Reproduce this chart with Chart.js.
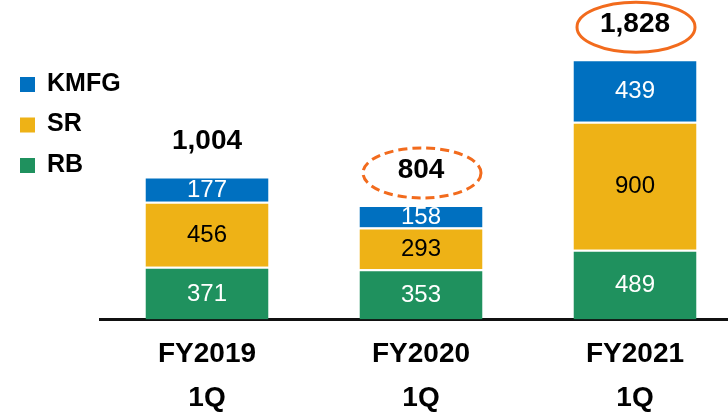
<!DOCTYPE html>
<html>
<head>
<meta charset="utf-8">
<script src="https://cdn.jsdelivr.net/npm/chart.js@4.4.1/dist/chart.umd.min.js"></script>
<style>
  html, body { margin: 0; padding: 0; background: #fff; overflow: hidden; }
</style>
</head>
<body>
<canvas id="chart" width="742" height="418"></canvas>
<script>
const categories = [['FY2019', '1Q'], ['FY2020', '1Q'], ['FY2021', '1Q']];
const rbValues = [371, 353, 489];
const srValues = [456, 293, 900];
const kmfgValues = [177, 158, 439];
// highlight ring drawn round the total: none, dashed, solid
const ringStyles = [null, 'dashed', 'solid'];

const FONT = "'Liberation Sans', Arial, sans-serif";
const ORANGE = '#F26B1D';

// segment values inside the bars, totals (and rings) above them
const valueLabels = {
    id: 'valueLabels',
    afterDatasetsDraw(chart) {
        const ctx = chart.ctx;
        const datasets = chart.data.datasets;
        ctx.save();
        ctx.textAlign = 'center';
        ctx.textBaseline = 'middle';

        ctx.font = '24px ' + FONT;
        datasets.forEach((ds, i) => {
            chart.getDatasetMeta(i).data.forEach((bar, j) => {
                ctx.fillStyle = ds.labelColor;
                ctx.fillText(ds.data[j], bar.x, (bar.y + bar.base) / 2 + 1);
            });
        });

        const top = chart.getDatasetMeta(datasets.length - 1);
        top.data.forEach((bar, j) => {
            const total = datasets.reduce((sum, ds) => sum + ds.data[j], 0);
            const y = bar.y - 35;
            ctx.font = 'bold 28px ' + FONT;
            ctx.fillStyle = '#000';
            ctx.fillText(total.toLocaleString('en-US'), bar.x, y);

            if (ringStyles[j]) {
                ctx.beginPath();
                ctx.lineWidth = 3;
                ctx.strokeStyle = ORANGE;
                ctx.setLineDash(ringStyles[j] === 'dashed' ? [9, 5] : []);
                ctx.ellipse(bar.x + 1, y + 3, 59, 25, 0, 0, Math.PI * 2);
                ctx.stroke();
            }
        });
        ctx.restore();
    }
};

// legend in the top-left corner, last series first
const cornerLegend = {
    id: 'cornerLegend',
    afterDraw(chart) {
        const ctx = chart.ctx;
        const items = chart.data.datasets.slice().reverse();
        ctx.save();
        ctx.font = 'bold 25px ' + FONT;
        ctx.textAlign = 'left';
        ctx.textBaseline = 'middle';
        items.forEach((ds, i) => {
            const y = 84 + i * 40.5;
            ctx.fillStyle = ds.backgroundColor;
            ctx.fillRect(20, y - 7, 15, 15);
            ctx.fillStyle = '#000';
            ctx.fillText(ds.label, 47, y);
        });
        ctx.restore();
    }
};

new Chart(document.getElementById('chart'), {
    type: 'bar',
    data: {
        labels: categories,
        datasets: [
            { label: 'RB', data: rbValues, backgroundColor: '#1F915E', labelColor: '#fff' },
            { label: 'SR', data: srValues, backgroundColor: '#EEB216', labelColor: '#000' },
            { label: 'KMFG', data: kmfgValues, backgroundColor: '#0070C0', labelColor: '#fff' }
        ]
    },
    options: {
        responsive: false,
        animation: false,
        layout: { padding: { left: 100, top: 56 } },
        datasets: {
            bar: {
                borderColor: '#fff',
                borderWidth: { top: 2 },
                categoryPercentage: 1,
                barPercentage: 0.575
            }
        },
        scales: {
            x: {
                stacked: true,
                grid: { display: false },
                border: { display: true, color: '#111', width: 3 },
                ticks: {
                    color: '#000',
                    padding: 5,
                    font: { family: FONT, size: 28, weight: 'bold', lineHeight: '44px' }
                },
                afterFit(scale) {
                    scale.height = 98.5;
                }
            },
            y: {
                stacked: true,
                display: false,
                min: 0,
                max: 1850
            }
        },
        plugins: {
            legend: { display: false },
            tooltip: { enabled: false }
        }
    },
    plugins: [valueLabels, cornerLegend]
});
</script>
</body>
</html>
